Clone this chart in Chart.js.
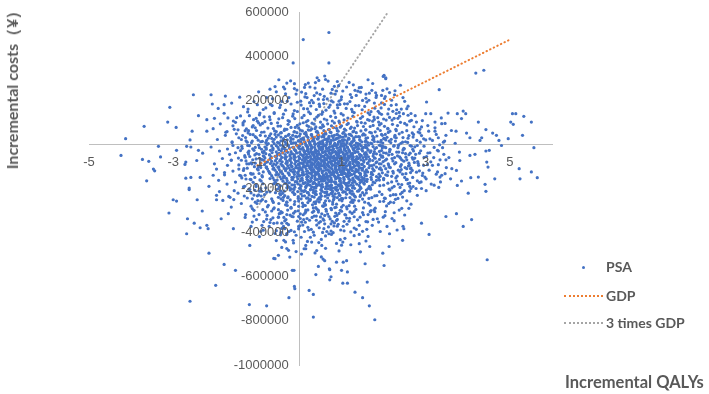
<!DOCTYPE html>
<html>
<head>
<meta charset="utf-8">
<script src="https://cdn.jsdelivr.net/npm/chart.js@4.4.1/dist/chart.umd.min.js"></script>
<style>
  body { margin: 0; background: #fff; }
  #wrap { position: relative; width: 709px; height: 394px; overflow: hidden; }
  #chart { position: absolute; left: 0; top: 0; }
  .lbl { position: absolute; font-family: Lato, 'Open Sans', sans-serif; font-weight: 700; color: #595959; font-size: 14px; white-space: nowrap; line-height: 1; }
  #ytitle { left: 12px; top: 86px; font-size: 16px; transform: translate(-50%, -50%) rotate(-90deg); }
  #xtitle { left: 565px; top: 374px; font-size: 16.5px; }
  .lg-text { left: 606px; }
  .lg-line { position: absolute; left: 564px; width: 39px; height: 0; border-top: 2px dotted; }
  .lg-dot { position: absolute; left: 582px; width: 3px; height: 3px; border-radius: 50%; background: #4472C4; }
</style>
</head>
<body>
<div id="wrap">
  <canvas id="chart" width="709" height="394"></canvas>
  <div class="lbl" id="ytitle">Incremental costs（¥）</div>
  <div class="lbl" id="xtitle">Incremental QALYs</div>
  <div class="lg-dot" style="top:266px"></div>
  <div class="lbl lg-text" style="top:260px">PSA</div>
  <div class="lg-line" style="top:295px; border-color:#ED7D31"></div>
  <div class="lbl lg-text" style="top:289px">GDP</div>
  <div class="lg-line" style="top:322px; border-color:#A5A5A5"></div>
  <div class="lbl lg-text" style="top:316px">3 times GDP</div>
</div>
<script>
// axis ticks
const xTicks = [-5, -3, -1, 1, 3, 5];
const yTicks = [600000, 400000, 200000, 0, -200000, -400000, -600000, -800000, -1000000];

// threshold lines: [QALY, cost]
const gdpLine = [[-1, -95000], [5, 475000]];
const gdp3Line = [[-1, -285000], [2.1, 598500]];

// PSA simulations: [incremental QALYs, incremental cost in thousand ¥]
// dense centre of the cloud
const psaDense = [
  [-0.45,83],[-0.1,77],[0.18,85],[0.39,79],[0.57,82],[0.81,76],[1.0,84],[1.23,78],[1.52,81],[1.75,86],
  [-0.62,72],[-0.3,68],[-0.02,74],[0.21,66],[0.37,71],[0.52,75],[0.71,67],[0.88,73],[1.07,69],[1.31,74],[1.58,66],[1.86,71],
  [-0.55,58],[-0.36,63],[-0.13,56],[0.07,61],[0.26,64],[0.4,57],[0.58,62],[0.73,55],[0.92,60],[1.1,64],[1.27,57],[1.46,61],[1.67,55],[1.92,63],
  [-0.68,48],[-0.45,52],[-0.25,46],[-0.06,53],[0.12,49],[0.29,44],[0.44,51],[0.6,47],[0.75,54],[0.89,45],[1.03,50],[1.18,46],[1.35,53],[1.52,48],[1.71,52],[1.95,45],
  [-0.71,39],[-0.5,43],[-0.33,36],[-0.16,41],[0.0,38],[0.16,44],[0.3,35],[0.43,40],[0.57,43],[0.7,36],[0.83,41],[0.96,37],[1.09,44],[1.24,39],[1.4,35],[1.56,42],[1.74,37],[1.97,41],
  [-0.74,28],[-0.55,33],[-0.38,26],[-0.21,31],[-0.06,34],[0.08,27],[0.2,32],[0.33,25],[0.45,30],[0.58,34],[0.69,26],[0.8,31],[0.92,28],[1.04,33],[1.16,25],[1.29,30],[1.43,34],[1.58,27],[1.77,31],[2.0,26],
  [-0.78,18],[-0.6,23],[-0.44,16],[-0.29,21],[-0.15,24],[-0.02,17],[0.1,22],[0.22,15],[0.33,19],[0.44,24],[0.55,16],[0.65,21],[0.75,18],[0.86,23],[0.96,15],[1.07,20],[1.18,24],[1.3,17],[1.43,22],[1.58,16],[1.74,21],[1.94,18],
  [-0.8,8],[-0.63,13],[-0.48,6],[-0.34,11],[-0.21,14],[-0.09,7],[0.03,12],[0.14,5],[0.25,9],[0.35,14],[0.45,6],[0.55,11],[0.65,8],[0.74,13],[0.84,5],[0.93,10],[1.03,14],[1.13,7],[1.24,12],[1.35,6],[1.48,11],[1.62,8],[1.78,13],[1.98,6],
  [-0.77,-2],[-0.6,3],[-0.45,-4],[-0.32,1],[-0.19,4],[-0.07,-3],[0.05,2],[0.16,-5],[0.26,-1],[0.36,4],[0.46,-4],[0.55,1],[0.64,-2],[0.73,3],[0.82,-5],[0.91,0],[1.0,4],[1.1,-3],[1.2,2],[1.31,-4],[1.43,1],[1.57,-2],[1.72,3],[1.9,-4],
  [-0.82,-12],[-0.66,-7],[-0.51,-14],[-0.38,-9],[-0.26,-6],[-0.14,-13],[-0.03,-8],[0.08,-15],[0.18,-11],[0.27,-6],[0.36,-14],[0.45,-9],[0.53,-12],[0.62,-7],[0.7,-15],[0.79,-10],[0.87,-6],[0.96,-13],[1.05,-8],[1.14,-14],[1.24,-9],[1.35,-12],[1.47,-7],[1.6,-15],[1.75,-10],[1.93,-6],
  [-0.79,-22],[-0.63,-17],[-0.49,-24],[-0.36,-19],[-0.24,-16],[-0.12,-23],[-0.01,-18],[0.1,-25],[0.2,-21],[0.29,-16],[0.38,-24],[0.47,-19],[0.55,-22],[0.64,-17],[0.72,-25],[0.81,-20],[0.89,-16],[0.98,-23],[1.07,-18],[1.17,-24],[1.27,-19],[1.38,-22],[1.5,-17],[1.63,-25],[1.79,-20],[1.97,-16],
  [-0.84,-32],[-0.69,-27],[-0.55,-34],[-0.43,-29],[-0.31,-26],[-0.2,-33],[-0.09,-28],[0.01,-35],[0.11,-31],[0.2,-26],[0.28,-34],[0.37,-29],[0.45,-32],[0.53,-27],[0.61,-35],[0.69,-30],[0.77,-26],[0.85,-33],[0.93,-28],[1.01,-34],[1.1,-29],[1.19,-32],[1.29,-27],[1.39,-35],[1.5,-30],[1.63,-26],[1.78,-33],[1.95,-28],
  [-0.8,-42],[-0.65,-37],[-0.52,-44],[-0.4,-39],[-0.28,-36],[-0.17,-43],[-0.07,-38],[0.03,-45],[0.13,-41],[0.22,-36],[0.3,-44],[0.39,-39],[0.47,-42],[0.55,-37],[0.63,-45],[0.71,-40],[0.79,-36],[0.87,-43],[0.95,-38],[1.04,-44],[1.13,-39],[1.22,-42],[1.32,-37],[1.43,-45],[1.55,-40],[1.68,-36],[1.83,-43],[2.0,-38],
  [-0.86,-52],[-0.71,-47],[-0.58,-54],[-0.46,-49],[-0.34,-46],[-0.23,-53],[-0.12,-48],[-0.02,-55],[0.08,-51],[0.17,-46],[0.26,-54],[0.34,-49],[0.42,-52],[0.5,-47],[0.58,-55],[0.66,-50],[0.74,-46],[0.82,-53],[0.9,-48],[0.98,-54],[1.07,-49],[1.16,-52],[1.26,-47],[1.36,-55],[1.47,-50],[1.6,-46],[1.75,-53],[1.92,-48],
  [-0.82,-62],[-0.67,-57],[-0.54,-64],[-0.42,-59],[-0.31,-56],[-0.2,-63],[-0.1,-58],[0.0,-65],[0.1,-61],[0.19,-56],[0.28,-64],[0.36,-59],[0.44,-62],[0.52,-57],[0.6,-65],[0.68,-60],[0.76,-56],[0.84,-63],[0.92,-58],[1.0,-64],[1.09,-59],[1.18,-62],[1.28,-57],[1.39,-65],[1.51,-60],[1.64,-56],[1.8,-63],[1.98,-58],
  [-0.85,-72],[-0.7,-67],[-0.57,-74],[-0.45,-69],[-0.33,-66],[-0.22,-73],[-0.12,-68],[-0.03,-75],[0.07,-71],[0.16,-66],[0.25,-74],[0.33,-69],[0.41,-72],[0.49,-67],[0.57,-75],[0.65,-70],[0.73,-66],[0.81,-73],[0.89,-68],[0.97,-74],[1.06,-69],[1.15,-72],[1.25,-67],[1.35,-75],[1.46,-70],[1.59,-66],[1.74,-73],[1.9,-68],
  [-0.8,-82],[-0.66,-77],[-0.53,-84],[-0.41,-79],[-0.3,-76],[-0.19,-83],[-0.09,-78],[0.01,-85],[0.11,-81],[0.2,-76],[0.29,-84],[0.37,-79],[0.45,-82],[0.53,-77],[0.61,-85],[0.69,-80],[0.77,-76],[0.85,-83],[0.93,-78],[1.02,-84],[1.11,-79],[1.2,-82],[1.3,-77],[1.41,-85],[1.53,-80],[1.66,-76],[1.82,-83],[1.99,-78],
  [-0.83,-92],[-0.69,-87],[-0.56,-94],[-0.44,-89],[-0.32,-86],[-0.21,-93],[-0.11,-88],[-0.01,-95],[0.09,-91],[0.18,-86],[0.27,-94],[0.35,-89],[0.43,-92],[0.51,-87],[0.59,-95],[0.67,-90],[0.75,-86],[0.83,-93],[0.91,-88],[0.99,-94],[1.08,-89],[1.17,-92],[1.27,-87],[1.37,-95],[1.49,-90],[1.62,-86],[1.77,-93],[1.94,-88],
  [-0.78,-102],[-0.64,-97],[-0.51,-104],[-0.39,-99],[-0.28,-96],[-0.18,-103],[-0.08,-98],[0.02,-105],[0.12,-101],[0.21,-96],[0.3,-104],[0.38,-99],[0.46,-102],[0.54,-97],[0.62,-105],[0.7,-100],[0.78,-96],[0.86,-103],[0.94,-98],[1.03,-104],[1.12,-99],[1.21,-102],[1.31,-97],[1.42,-105],[1.54,-100],[1.67,-96],[1.83,-103],[2.01,-98],
  [-0.76,-112],[-0.61,-107],[-0.48,-114],[-0.36,-109],[-0.25,-106],[-0.14,-113],[-0.04,-108],[0.06,-115],[0.16,-111],[0.25,-106],[0.34,-114],[0.43,-109],[0.51,-112],[0.6,-107],[0.68,-115],[0.77,-110],[0.85,-106],[0.94,-113],[1.03,-108],[1.13,-114],[1.23,-109],[1.34,-112],[1.46,-107],[1.59,-115],[1.74,-110],[1.92,-106],
  [-0.73,-122],[-0.58,-117],[-0.45,-124],[-0.33,-119],[-0.22,-116],[-0.11,-123],[-0.01,-118],[0.09,-125],[0.19,-121],[0.28,-116],[0.37,-124],[0.46,-119],[0.54,-122],[0.63,-117],[0.71,-125],[0.8,-120],[0.88,-116],[0.97,-123],[1.06,-118],[1.16,-124],[1.26,-119],[1.37,-122],[1.49,-117],[1.62,-125],[1.77,-120],[1.95,-116],
  [-0.7,-132],[-0.54,-127],[-0.4,-134],[-0.27,-129],[-0.15,-126],[-0.04,-133],[0.07,-128],[0.17,-135],[0.27,-131],[0.36,-126],[0.45,-134],[0.54,-129],[0.63,-132],[0.72,-127],[0.81,-135],[0.9,-130],[0.99,-126],[1.09,-133],[1.19,-128],[1.3,-134],[1.42,-129],[1.56,-132],[1.71,-127],[1.89,-135],
  [-0.66,-142],[-0.5,-137],[-0.36,-144],[-0.24,-139],[-0.12,-136],[-0.01,-143],[0.1,-138],[0.2,-145],[0.3,-141],[0.39,-136],[0.48,-144],[0.57,-139],[0.66,-142],[0.75,-137],[0.84,-145],[0.93,-140],[1.02,-136],[1.12,-143],[1.22,-138],[1.33,-144],[1.45,-139],[1.59,-142],[1.74,-137],[1.92,-145],
  [-0.63,-152],[-0.46,-147],[-0.31,-154],[-0.18,-149],[-0.06,-146],[0.06,-153],[0.17,-148],[0.27,-155],[0.37,-151],[0.47,-146],[0.56,-154],[0.66,-149],[0.75,-152],[0.85,-147],[0.95,-155],[1.05,-150],[1.16,-146],[1.27,-153],[1.4,-148],[1.54,-154],[1.7,-149],[1.88,-152],
  [-0.6,-162],[-0.43,-157],[-0.29,-164],[-0.16,-159],[-0.04,-156],[0.07,-163],[0.18,-158],[0.28,-165],[0.38,-161],[0.48,-156],[0.57,-164],[0.67,-159],[0.76,-162],[0.86,-157],[0.96,-165],[1.06,-160],[1.17,-156],[1.28,-163],[1.41,-158],[1.55,-164],[1.71,-159],[1.9,-162],
  [-0.57,-172],[-0.39,-167],[-0.24,-174],[-0.1,-169],[0.02,-166],[0.14,-173],[0.25,-168],[0.36,-175],[0.46,-171],[0.56,-166],[0.66,-174],[0.76,-169],[0.86,-172],[0.96,-167],[1.07,-175],[1.18,-170],[1.3,-166],[1.44,-173],[1.6,-168],[1.79,-174],
  [-0.53,-182],[-0.34,-177],[-0.18,-184],[-0.04,-179],[0.09,-176],[0.21,-183],[0.32,-178],[0.43,-185],[0.54,-181],[0.64,-176],[0.75,-184],[0.86,-179],[0.97,-182],[1.09,-177],[1.22,-185],[1.36,-180],[1.53,-176],[1.73,-183],
  [-0.48,-192],[-0.28,-187],[-0.11,-194],[0.04,-189],[0.17,-186],[0.29,-193],[0.41,-188],[0.53,-195],[0.64,-191],[0.76,-186],[0.88,-194],[1.0,-189],[1.13,-192],[1.28,-187],[1.45,-195],[1.66,-190],
  [-0.5,-202],[-0.3,-197],[-0.13,-204],[0.02,-199],[0.15,-196],[0.27,-203],[0.39,-198],[0.51,-205],[0.62,-201],[0.74,-196],[0.86,-204],[0.98,-199],[1.11,-202],[1.26,-197],[1.43,-205],[1.63,-200],
  [-0.44,-212],[-0.22,-207],[-0.04,-214],[0.12,-209],[0.26,-206],[0.39,-213],[0.52,-208],[0.65,-215],[0.78,-211],[0.91,-206],[1.05,-214],[1.2,-209],[1.38,-212],[1.59,-207],
  [-0.4,-222],[-0.16,-217],[0.04,-224],[0.21,-219],[0.36,-216],[0.5,-223],[0.64,-218],[0.78,-225],[0.93,-221],[1.09,-216],[1.28,-224],[1.5,-219],
  [-0.35,-232],[-0.12,-227],[0.07,-234],[0.23,-229],[0.38,-226],[0.52,-233],[0.66,-228],[0.8,-235],[0.95,-231],[1.12,-226],[1.31,-234],[1.54,-229],
  [-0.28,-242],[-0.03,-237],[0.17,-244],[0.35,-239],[0.51,-236],[0.67,-243],[0.83,-238],[1.0,-245],[1.2,-241],[1.44,-236],
  [-0.22,-252],[0.04,-247],[0.25,-254],[0.44,-249],[0.62,-256],[0.81,-251],[1.03,-246],[1.3,-253],
  [-0.3,-262],[-0.02,-257],[0.2,-264],[0.4,-259],[0.59,-266],[0.79,-261],[1.01,-256],[1.27,-263],
  [-0.12,-272],[0.14,-277],[0.38,-269],[0.62,-275],[0.88,-271],[1.18,-278],
  [-0.2,-286],[0.08,-282],[0.33,-288],[0.57,-281],[0.84,-287],[1.12,-283]
];

// extra points filling the centre between the rows above
const psaFill = [
  [0.04,24],[0.19,-9],[0.31,-37],[0.43,-64],[0.58,-93],[0.71,-121],[0.85,-148],[0.99,-177],[1.14,-205],[1.28,16],[1.41,-19],[1.55,-46],[0.12,-78],[0.25,-104],[0.39,-131],[0.52,-158],[0.66,-186],[0.79,-214],[0.93,12],[1.07,-25],[1.21,-53],[1.35,-82],[1.49,-110],[0.07,-139],[0.21,-167],[0.35,-195],[0.48,3],[0.62,-31],[0.76,-58],[0.9,-86],[1.04,-115],[1.18,-143],[1.32,-171],[1.46,-199],[0.16,-57],[0.3,-84],[0.44,-112],[0.57,-140],[0.71,-168],[0.85,-196],[0.99,-4],[1.13,-40],[1.27,-68],[1.41,-96],[1.55,-124],[0.02,-185],[0.14,-211],[0.28,-19],[0.42,-46],[0.55,-15],[0.69,-99],[0.83,-127],[0.97,-155],[1.11,-184],[1.25,-212],[1.39,-7],[1.53,-73],[0.09,-103],[0.23,-130],[0.37,-158],[0.5,-186],[0.64,24],[0.78,-9],[0.92,-37],[1.06,-65],[1.2,-93],[1.34,-121],[1.48,-149],[0.18,-29],[0.33,-218],[0.47,-89],[0.6,-146],[0.74,-204],[0.88,-61],[1.02,-89],[1.16,-176],[1.3,-233],[1.44,-162],[1.58,-14],[0.95,-112]
];

// soft edge round the dense centre
const psaEdge = [
  [-0.88,95],[-0.7,112],[-0.52,98],[-0.4,121],[-0.24,104],[-0.11,117],[0.01,93],[0.11,131],[0.2,108],[0.3,96],[0.41,124],[0.5,101],[0.59,115],[0.67,93],[0.78,106],[0.86,122],[0.95,98],[1.06,111],[1.16,95],[1.27,128],[1.36,104],[1.45,118],[1.56,96],[1.66,109],[1.77,124],[1.88,101],[2.0,115],[-0.6,140],[-0.33,155],[-0.15,138],[0.1,162],[0.22,147],[0.4,158],[0.53,136],[0.7,168],[0.82,151],[0.99,139],[1.11,163],[1.3,144],[1.49,157],[1.67,135],[1.87,150],[-0.45,178],[-0.05,191],[0.27,174],[0.58,185],[0.9,179],[1.2,194],[1.55,172],[1.95,188],[-0.8,165],[0.45,205],[1.0,215],[0.15,230],[1.65,200],[-0.25,212],[0.75,232],[1.35,222],[2.12,160],[-1.0,180],
  [-0.62,-293],[-0.44,-305],[-0.28,-298],[-0.14,-312],[-0.03,-301],[0.09,-319],[0.2,-297],[0.31,-308],[0.42,-294],[0.53,-315],[0.64,-303],[0.76,-296],[0.86,-311],[0.97,-299],[1.08,-318],[1.2,-306],[1.34,-295],[1.5,-309],[1.7,-300],[-0.5,-330],[-0.32,-341],[-0.18,-327],[0.05,-352],[0.18,-336],[0.4,-344],[0.5,-329],[0.73,-338],[0.84,-326],[1.06,-349],[1.19,-335],[1.44,-330],[1.62,-351],[-0.38,-372],[-0.2,-390],[0.08,-366],[0.33,-398],[0.47,-378],[0.75,-393],[1.04,-371],[1.22,-397],[-0.08,-412],[0.26,-421],[0.62,-415],[0.97,-432],[-0.45,-410],[1.42,-408],[0.12,-395],[0.58,-344],[0.92,-362],[-0.02,-327],
  [-1.34,88],[-1.21,62],[-1.05,75],[-0.93,41],[-1.28,31],[-1.14,8],[-0.98,19],[-1.36,-18],[-1.19,-6],[-1.02,-42],[-0.9,-22],[-1.3,-51],[-1.11,-70],[-0.95,-63],[-1.25,-88],[-1.07,-101],[-0.92,-84],[-1.33,-118],[-1.16,-131],[-1.0,-112],[-0.89,-142],[-1.27,-157],[-1.1,-172],[-0.94,-161],[-1.2,-203],[-1.03,-191],[-0.9,-212],[-1.31,-234],[-1.12,-247],[-0.97,-229],[-1.22,-36],[-1.05,-14],[-1.17,45],[-0.97,97],[-1.29,-140],[-0.92,-105],[-1.15,-220],[-0.87,-178],[-0.99,-255],[-1.24,10],[-1.38,-72],[-1.06,-150],[-0.86,-37],[-1.13,-88],[-0.88,14],
  [2.02,82],[2.11,54],[2.21,91],[2.28,15],[2.37,48],[2.46,-25],[2.55,62],[2.63,-5],[2.05,20],[2.14,-33],[2.24,-8],[2.33,-52],[2.43,-70],[2.52,-42],[2.61,-95],[2.69,-22],[2.07,-67],[2.16,-105],[2.26,-88],[2.35,-117],[2.45,-135],[2.54,-160],[2.64,-128],[2.09,-141],[2.19,-170],[2.29,-152],[2.39,-195],[2.49,-210],[2.58,-178],[2.13,-203],[2.23,-228],[2.34,-245],[2.44,-218],[2.04,-245],[2.16,-262],[2.0,-185],[2.1,-125],[2.2,-45],[2.3,30],[2.4,-100],[2.5,-150],[2.6,40],[2.68,-60],[2.05,-15],[2.15,60],[2.25,-190],[2.35,-5],[2.45,10],[2.55,-110],[2.65,-200],[2.72,80],[2.8,-165],[2.85,-40],[2.95,-95],[3.0,20]
];

// middle ring, between the centre and the sparse tails
const psaMid = [
  [-1.18,-205],[-1.05,-262],[-0.96,-318],[-0.83,-228],[-0.74,-276],[-0.68,-341],[-0.57,-219],[-0.49,-268],[-0.41,-309],[-0.35,-382],[-1.12,-352],[-0.92,-395],[-0.8,-258],[-0.66,-302],[-0.53,-356],[-0.44,-247],[-0.37,-331],[-1.0,-233],[-0.87,-296],[-0.72,-372],[-0.6,-288],[-0.47,-223],[-0.33,-274],[-1.08,-325],[-0.95,-212],[-0.78,-339],[-0.64,-256],[-0.55,-391],[-0.42,-357],[-0.3,-318],[-0.85,-350],[-1.15,-280],[-0.7,-215],[-0.5,-330],[-0.38,-240],
  [1.55,-262],[1.63,-318],[1.72,-241],[1.8,-289],[1.88,-352],[1.96,-227],[2.04,-305],[2.12,-268],[2.2,-336],[2.28,-249],[2.37,-298],[2.46,-371],[2.55,-256],[1.6,-385],[1.75,-340],[1.92,-395],[2.08,-372],[2.25,-310],[2.4,-225],[1.68,-276],[1.84,-232],[2.0,-258],[2.16,-232],[2.32,-388],[2.5,-320],[1.58,-350],[1.79,-305],[1.99,-330],[2.14,-405],[2.6,-290],
  [-1.78,-138],[-1.71,-95],[-1.66,-45],[-1.6,12],[-1.55,68],[-1.49,121],[-1.44,-112],[-1.4,-28],[-1.35,40],[-1.31,105],[-1.27,-75],[-1.23,-5],[-1.19,130],[-1.14,-135],[-1.1,85],[-1.06,-48],[-1.02,30],[-0.98,-102],[-0.94,142],[-0.9,-68],[-1.75,55],[-1.62,-72],[-1.52,100],[-1.46,-15],[-1.37,-152],[-1.29,62],[-1.2,-88],[-1.11,-20],[-1.03,118],[-0.96,-132],
  [1.62,112],[1.7,148],[1.78,187],[1.86,121],[1.94,165],[2.02,208],[2.1,138],[2.18,177],[2.26,225],[2.34,118],[2.42,160],[2.5,195],[2.58,132],[1.66,232],[1.82,213],[1.98,245],[2.14,235],[2.3,180],[2.46,212],[1.74,105],[1.9,142],[2.06,110],[2.22,150],[2.38,128],[2.62,105],
  [-0.78,212],[-0.65,176],[-0.55,238],[-0.42,195],[-0.35,252],[-0.2,183],[-0.08,228],[0.03,196],[0.12,258],[0.24,189],[0.35,221],[0.47,182],[0.55,250],[0.66,206],[0.73,178],[0.85,228],[0.94,196],[1.03,242],[1.14,184],[1.24,213],[1.33,176],[1.42,257],[1.5,199],[1.58,228],[-0.7,250],[-0.12,275],[0.38,280],[0.9,285],[1.28,270],[0.6,310],
  [2.62,-175],[2.68,-118],[2.74,-62],[2.8,-5],[2.86,52],[2.92,108],[2.98,-148],[3.04,-92],[3.1,-38],[3.16,18],[3.22,75],[3.28,-125],[3.34,-70],[3.4,-15],[3.46,95],[2.65,140],[2.77,-200],[2.89,-170],[3.01,-210],[3.13,-180],[3.25,45],[3.37,120],[3.49,-105],[2.71,-30],[2.83,-95],[2.95,25],[3.07,60],[3.19,-60],[3.31,-195],[3.43,-45],
  [-0.45,-312],[-0.3,-358],[-0.15,-328],[-0.02,-372],[0.1,-341],[0.22,-388],[0.34,-303],[0.46,-356],[0.58,-382],[0.7,-327],[0.82,-370],[0.94,-313],[1.06,-392],[1.18,-348],[1.3,-305],[1.42,-367],[-0.25,-395],[0.15,-305],[0.4,-325],[0.65,-395],[0.88,-345],[1.1,-320],[1.35,-385],[0.02,-315],[0.75,-360]
];

// wider body of the cloud
const psaCore = [
  [-0.58,262],[-0.21,288],[0.14,271],[0.37,255],[0.62,294],[0.93,266],[1.18,281],[1.47,258],[1.74,276],[2.08,252],
  [-1.42,214],[-0.97,238],[-0.64,207],[-0.33,229],[-0.06,246],[0.18,212],[0.41,233],[0.59,218],[0.78,249],[0.99,203],[1.21,226],[1.39,241],[1.58,209],[1.81,234],[2.04,217],[2.27,243],
  [-1.93,163],[-1.61,187],[-1.33,171],[-1.08,194],[-0.86,158],[-0.69,182],[-0.47,167],[-0.29,196],[-0.12,153],[0.04,178],[0.19,161],[0.33,189],[0.48,172],[0.63,155],[0.76,197],[0.91,166],[1.07,184],[1.24,159],[1.41,176],[1.6,192],[1.79,164],[2.02,181],[2.31,157],[2.58,173],
  [-2.02,118],[-1.79,141],[-1.57,106],[-1.4,129],[-1.23,147],[-1.09,112],[-0.95,134],[-0.82,103],[-0.71,125],[-0.6,144],[-0.49,116],[-0.38,137],[-0.27,108],[-0.16,128],[-0.05,149],[0.06,121],[0.16,102],[0.26,139],[0.36,115],[0.45,131],[0.55,146],[0.65,110],[0.74,127],[0.84,142],[0.94,105],[1.04,133],[1.15,119],[1.26,148],[1.37,101],[1.5,126],[1.63,143],[1.78,113],[1.95,136],[2.14,122],[2.37,145],[2.66,109],
  [-2.05,71],[-1.88,93],[-1.72,58],[-1.58,84],[-1.46,66],[-1.34,97],[-1.22,52],[-1.12,79],[-1.02,63],[-0.93,88],[-0.84,56],[-0.75,74],[-0.67,95],[-0.59,61],[-0.51,83],[-0.43,53],[-0.35,69],[-0.27,91],[-0.2,77],[-0.12,58],[-0.05,86],[0.02,65],[0.09,98],[0.15,54],[0.22,81],[0.29,70],[0.35,92],[0.42,59],[0.49,76],[0.55,89],[0.62,51],[0.69,67],[0.76,84],[0.83,97],[0.9,62],[0.97,78],[1.05,55],[1.13,90],[1.21,72],[1.29,60],[1.38,85],[1.47,99],[1.57,66],[1.68,81],[1.8,57],[1.94,94],[2.1,73],[2.3,62],[2.55,88],[2.86,68],
  [-1.95,22],[-1.76,41],[-1.6,8],[-1.44,30],[-1.27,16],[-1.1,44],
  [-0.92,12],[-0.81,38],[-0.74,4],[-0.66,27],[-0.58,45],[-0.52,9],[-0.44,33],[-0.39,18],[-0.31,2],[-0.27,41],[-0.2,24],[-0.14,7],[-0.09,36],[-0.03,15],[0.02,47],[0.05,3],[0.09,29],[0.13,11],[0.17,38],[0.21,21],[0.24,6],[0.28,44],[0.31,16],[0.35,31],[0.38,2],[0.42,25],[0.46,40],[0.49,12],[0.53,34],[0.56,5],[0.6,22],[0.63,47],[0.67,14],[0.7,30],[0.74,8],[0.77,39],[0.81,19],[0.84,1],[0.88,27],[0.91,43],[0.95,11],[0.98,33],[1.02,20],[1.06,4],[1.1,37],[1.13,16],[1.17,28],[1.21,45],[1.25,9],[1.29,24],[1.34,35],[1.39,3],[1.44,18],[1.5,42],[1.56,13],[1.62,30],[1.69,6],[1.76,23],[1.84,38],[1.93,10],[2.02,27],[2.13,15],[2.26,33],[2.41,5],
  [-1.71,-21],[-1.52,-38],[-1.37,-9],[-1.21,-44],[-1.08,-27],[-0.97,-3],[-0.88,-35],[-0.79,-16],[-0.71,-48],[-0.63,-24],[-0.55,-6],[-0.48,-41],[-0.41,-19],[-0.34,-31],[-0.28,-2],[-0.22,-46],[-0.16,-13],[-0.1,-28],[-0.05,-39],[0.0,-8],[0.04,-22],[0.08,-49],[0.12,-33],[0.16,-4],[0.2,-17],[0.23,-42],[0.27,-26],[0.3,-11],[0.34,-37],[0.37,-1],[0.41,-29],[0.44,-45],[0.48,-14],[0.51,-23],[0.55,-36],[0.58,-6],[0.62,-47],[0.65,-19],[0.69,-31],[0.72,-10],[0.76,-40],[0.79,-25],[0.83,-3],[0.86,-34],[0.9,-16],[0.93,-48],[0.97,-27],[1.0,-8],[1.04,-38],[1.07,-21],[1.11,-44],[1.14,-12],[1.18,-30],[1.22,-2],[1.26,-41],[1.3,-18],[1.34,-33],[1.39,-7],[1.43,-46],[1.48,-24],[1.53,-13],[1.58,-37],[1.64,-4],[1.7,-29],[1.76,-43],[1.83,-15],[1.9,-32],[1.98,-9],[2.06,-40],[2.15,-22],[2.25,-5],[2.36,-35],[2.48,-18],[2.6,-47],[2.74,-11],[2.88,-29],[3.05,-39],[3.2,-14],[-1.9,-30],[-2.1,-12],
  [-1.62,-71],[-1.44,-93],[-1.29,-58],[-1.15,-84],[-1.03,-66],[-0.93,-97],[-0.84,-55],[-0.76,-79],[-0.68,-62],[-0.61,-88],[-0.54,-52],[-0.47,-75],[-0.41,-95],[-0.35,-60],[-0.29,-83],[-0.23,-69],[-0.18,-99],[-0.13,-56],[-0.08,-77],[-0.03,-91],[0.01,-63],[0.05,-85],[0.09,-51],[0.13,-72],[0.17,-96],[0.21,-59],[0.24,-81],[0.28,-67],[0.31,-92],[0.35,-54],[0.38,-76],[0.42,-88],[0.45,-61],[0.49,-98],[0.52,-70],[0.56,-53],[0.59,-83],[0.63,-65],[0.66,-94],[0.7,-57],[0.73,-78],[0.77,-89],[0.8,-62],[0.84,-74],[0.87,-99],[0.91,-52],[0.94,-86],[0.98,-68],[1.01,-80],[1.05,-58],[1.08,-95],[1.12,-71],[1.15,-63],[1.19,-87],[1.23,-54],[1.27,-76],[1.31,-97],[1.35,-66],[1.39,-82],[1.43,-59],[1.48,-91],[1.52,-73],[1.57,-56],[1.62,-85],[1.67,-68],[1.72,-96],[1.78,-61],[1.84,-79],[1.9,-88],[1.97,-53],[2.04,-72],[2.12,-94],[2.2,-64],[2.29,-83],[2.38,-57],[2.48,-76],[2.59,-98],[2.7,-67],[2.82,-86],[2.96,-59],[3.12,-79],[3.3,-92],[3.48,-70],[-1.83,-64],[-2.02,-88],[0.6,-73],[0.95,-61],[1.1,-83],[0.4,-66],[1.3,-72],
  [-1.58,-121],[-1.39,-143],[-1.24,-108],[-1.1,-134],[-0.98,-116],[-0.88,-147],[-0.79,-105],[-0.71,-129],[-0.63,-112],[-0.56,-138],[-0.49,-102],[-0.43,-125],[-0.37,-145],[-0.31,-110],[-0.25,-133],[-0.2,-119],[-0.14,-149],[-0.09,-106],[-0.04,-127],[0.01,-141],[0.05,-113],[0.09,-135],[0.13,-101],[0.17,-122],[0.21,-146],[0.25,-109],[0.28,-131],[0.32,-117],[0.36,-142],[0.39,-104],[0.43,-126],[0.46,-138],[0.5,-111],[0.53,-148],[0.57,-120],[0.6,-103],[0.64,-133],[0.67,-115],[0.71,-144],[0.74,-107],[0.78,-128],[0.81,-139],[0.85,-112],[0.88,-124],[0.92,-149],[0.95,-102],[0.99,-136],[1.02,-118],[1.06,-130],[1.09,-108],[1.13,-145],[1.17,-121],[1.2,-113],[1.24,-137],[1.28,-104],[1.32,-126],[1.36,-147],[1.4,-116],[1.45,-132],[1.5,-109],[1.55,-141],[1.6,-123],[1.65,-106],[1.71,-135],[1.77,-118],[1.83,-146],[1.9,-111],[1.97,-129],[2.05,-138],[2.13,-103],[2.22,-122],[2.32,-144],[2.42,-114],[2.53,-133],[2.65,-107],[2.78,-126],[2.92,-141],[3.08,-117],[3.25,-135],[-1.78,-128],[-1.97,-112],[0.7,-121],[1.0,-126],[0.3,-124],[1.15,-133],
  [-1.52,-171],[-1.33,-193],[-1.17,-158],[-1.03,-184],[-0.91,-166],[-0.8,-197],[-0.7,-155],[-0.61,-179],[-0.53,-162],[-0.45,-188],[-0.38,-152],[-0.31,-175],[-0.24,-195],[-0.18,-160],[-0.12,-183],[-0.06,-169],[0.0,-199],[0.05,-156],[0.1,-177],[0.15,-191],[0.2,-163],[0.25,-185],[0.29,-151],[0.34,-172],[0.38,-196],[0.43,-159],[0.47,-181],[0.52,-167],[0.56,-192],[0.61,-154],[0.65,-176],[0.7,-188],[0.74,-161],[0.79,-198],[0.83,-170],[0.88,-153],[0.92,-183],[0.97,-165],[1.01,-194],[1.06,-157],[1.11,-178],[1.16,-189],[1.21,-162],[1.26,-174],[1.31,-199],[1.36,-152],[1.42,-186],[1.48,-168],[1.54,-180],[1.61,-158],[1.68,-195],[1.75,-171],[1.83,-163],[1.91,-187],[2.0,-154],[2.1,-176],[2.2,-197],[2.31,-166],[2.43,-182],[2.56,-159],[2.7,-191],[2.85,-173],[3.01,-156],[3.2,-185],[-1.72,-180],[-1.92,-163],[-2.15,-190],[0.4,-181],[0.85,-174],[1.3,-166],[0.2,-178],[1.05,-171],[0.6,-164],[0.95,-189],[1.5,-158],
  [-1.46,-221],[-1.24,-243],[-1.06,-208],[-0.91,-234],[-0.78,-216],[-0.66,-247],[-0.55,-205],[-0.45,-229],[-0.36,-212],[-0.27,-238],[-0.19,-202],[-0.11,-225],[-0.03,-245],[0.05,-210],[0.12,-233],[0.19,-219],[0.26,-249],[0.33,-206],[0.4,-227],[0.47,-241],[0.54,-213],[0.61,-235],[0.68,-201],[0.75,-222],[0.82,-246],[0.89,-209],[0.96,-231],[1.03,-217],[1.1,-242],[1.17,-204],[1.25,-226],[1.33,-238],[1.41,-211],[1.5,-248],[1.59,-220],[1.69,-203],[1.79,-233],[1.9,-215],[2.02,-244],[2.15,-207],[2.29,-228],[2.45,-239],[2.62,-212],[2.8,-231],[-1.68,-236],[-1.9,-214],[0.3,-236],[0.7,-229],[0.9,-241],[1.2,-219],[0.1,-214],[0.5,-249],[1.0,-204],[1.45,-230],[0.6,-218],[0.2,-242],[-0.5,-240],[-0.15,-216],[0.85,-224],[1.65,-245],
  [-1.38,-268],[-1.12,-291],[-0.92,-257],[-0.76,-283],[-0.62,-263],[-0.5,-296],[-0.39,-254],[-0.29,-277],[-0.2,-289],[-0.11,-259],[-0.02,-281],[0.07,-266],[0.15,-298],[0.23,-253],[0.31,-274],[0.39,-287],[0.47,-261],[0.55,-279],[0.63,-294],[0.71,-256],[0.79,-271],[0.87,-285],[0.95,-252],[1.04,-276],[1.13,-292],[1.22,-262],[1.31,-280],[1.41,-256],[1.52,-288],[1.64,-267],[1.77,-297],[1.91,-259],[2.07,-279],[2.24,-264],[2.43,-290],[2.65,-271],[-1.62,-284],[0.35,-262],[0.75,-290],[0.6,-268],[1.0,-284],[0.1,-275],[0.45,-299],[1.25,-251],[-0.3,-262],
  [-1.28,-318],[-1.02,-341],[-0.81,-306],[-0.63,-333],[-0.48,-314],[-0.35,-347],[-0.22,-321],[-0.1,-304],[0.02,-336],[0.13,-312],[0.24,-344],[0.35,-325],[0.45,-307],[0.56,-338],[0.67,-316],[0.78,-349],[0.89,-322],[1.0,-303],[1.12,-334],[1.25,-313],[1.38,-342],[1.52,-319],[1.68,-305],[1.85,-337],[2.03,-323],[2.25,-346],[0.3,-331],[0.6,-322],[0.9,-340],[-0.05,-348],[1.3,-328],[0.5,-350],
  [-1.15,-372],[-0.86,-389],[-0.61,-358],[-0.42,-381],[-0.26,-364],[-0.12,-396],[0.01,-369],[0.14,-353],[0.28,-385],[0.41,-366],[0.55,-399],[0.69,-374],[0.83,-356],[0.98,-388],[1.13,-362],[1.3,-379],[1.5,-394],[1.73,-367],[0.2,-376],[0.6,-360],[-0.02,-383],[0.9,-371],
  [-0.95,-418],[-0.55,-436],[-0.3,-409],[-0.14,-447],[0.04,-421],[0.19,-440],[0.35,-412],[0.52,-431],[0.7,-405],[0.88,-449],[1.08,-426],[1.3,-414],[1.58,-438],[0.46,-445],
  [-0.42,-467],[-0.08,-486],[0.15,-458],[0.37,-492],[0.62,-471],[0.94,-483],[1.22,-455],[0.05,-497]
];

// rings either side of the centre
const psaRing = [
  [2.03,-12],[2.08,32],[2.12,-48],[2.17,8],[2.22,-75],[2.27,41],[2.31,-35],[2.36,-2],[2.42,-92],[2.44,55],[2.49,-20],[2.53,-58],[2.58,28],[2.64,-110],[2.66,-8],[2.71,45],[2.76,-45],[2.81,-78],[2.87,10],[2.93,-130],[2.05,-110],[2.1,70],[2.19,-145],[2.26,-60],[2.33,85],[2.39,-125],[2.45,-38],[2.52,12],[2.6,-85],[2.69,-150],
  [-1.58,-5],[-1.5,48],[-1.45,-62],[-1.38,22],[-1.32,-110],[-1.26,70],[-1.2,-30],[-1.15,-160],[-1.12,15],[-1.05,-85],[-1.0,105],[-0.96,-45],[-0.92,-200],[-0.9,55],[-0.86,-125],[-0.84,125],[-0.95,-15],[-1.05,35],[-1.18,-55],[-1.3,-190],[-1.42,-140],[-1.22,160],[-0.88,-250],[-1.08,-230]
];

const psaRight = [
  [1.86,12],[1.95,-57],[2.04,45],[2.11,-88],[2.18,23],[2.23,-130],[2.29,68],[2.34,-15],[2.4,-62],[2.46,31],[2.51,-105],[2.57,9],[2.63,-40],[2.68,52],[2.73,-82],[2.79,18],[2.85,-120],[2.9,40],[2.96,-8],[3.02,-55],[3.1,25],[3.16,-95],[3.22,60],[3.3,-30],[3.38,-140],[3.45,15],[3.55,-60],[3.62,-110],[3.7,5],[3.8,-35],[1.9,88],[2.0,-160],[2.2,110],[2.35,-180],[2.5,95],[2.62,-190],[2.75,130],[2.9,-200],[3.05,85],[3.35,-170],[2.15,-25],[2.55,-70],
  [4.19,323],[4.38,336],[3.32,248],[2.01,313],[2.05,302],[2.40,268],[3.02,192],[5.06,139],[5.14,139],[5.33,127],[5.51,101],[5.02,101],[5.08,91],[5.30,41],[5.57,-15],[5.22,-110],[5.51,-125],[5.65,-151],[5.24,-156],[4.96,26],[4.74,18],[4.80,-5],[4.43,67],[4.59,51],[4.68,41],[4.25,101],[3.89,151],[3.95,139],[3.75,139],[3.85,117],[3.53,142],[3.38,94],[3.22,101],[3.12,139],[3.0,139],[4.29,18],[4.33,30],[4.43,-30],[4.51,-27],[4.05,-50],[4.17,-45],[4.45,-80],[4.48,-103],[4.25,-148],[4.07,-151],[4.41,-181],[4.64,-156],[3.81,-73],[3.73,-118],[3.59,-156],[3.85,-166],[3.75,-186],[3.34,-148],[3.46,-133],[3.97,51],[4.05,30],[3.61,63],[3.72,60],[3.48,41],[3.42,10],[3.3,30],[3.33,-2],[3.28,-27],[2.78,101],[2.90,79],[2.82,56],[2.70,33],[2.55,162],[2.47,139],[2.3,140],[2.25,118],[2.4,100]
];

const psaTop = [
  [0.09,475],[0.70,507],[0.70,369],[-0.15,369],[-0.49,293],[-0.30,278],[-0.38,260],[-0.12,253],[0.21,278],[0.25,260],[0.42,302],[0.46,290],[0.68,287],[0.49,227],[0.57,203],[0.83,263],[0.88,242],[1.12,260],[1.32,245],[1.45,237],[1.63,293],[1.99,308],[2.05,298],[1.72,245],[1.83,222],[0.05,237],[0.13,215],[0.29,200],[0.80,192],[0.96,181],[1.95,222],[2.19,200]
];

const psaLeft = [
  [-2.52,225],[-2.10,225],[-1.76,219],[-3.08,168],[-2.07,183],[-1.79,180],[-3.13,101],[-3.69,82],[-2.93,77],[-2.55,60],[-2.20,112],[-4.13,26],[-3.35,-9],[-4.24,-50],[-3.73,-68],[-3.58,-77],[-3.47,-112],[-3.44,-120],[-3.30,-57],[-3.63,-165],[-2.92,-27],[-2.68,-9],[-2.58,-12],[-2.40,-27],[-2.44,-73],[-2.72,-91],[-2.70,-153],[-2.58,-150],[-2.36,-150],[-2.62,-198],
  [-3.0,-251],[-2.92,-257],[-3.10,-311],[-2.62,-205],[-2.43,-251],[-2.31,-302],[-2.66,-337],[-2.50,-357],[-2.36,-378],[-2.20,-367],[-2.17,-382],[-2.68,-405],[-1.97,-231],[-1.97,-251],[-1.86,-337],[-2.15,-493],[-1.79,-544],[-1.52,-571],[-1.99,-639],[-2.60,-711],[-1.18,-458],[-1.19,-726],[-0.78,-732],[-1.57,-382],[-1.69,-314],[-1.82,-254],
  [-1.29,-331],[-1.01,-268],[-0.89,-367],[-0.70,-354],[-0.58,-404],[-0.44,-399],[-1.08,-299],[-0.77,-322],[-0.61,-517],[-1.65,-240],[-1.56,-250],[-2.3,-40],[-2.2,60],[-2.4,130],[-2.05,-140],[-2.6,20],[-1.7,120],[-1.55,-210],[-2.7,-80]
];

const psaBottom = [
  [-0.58,-518],[-0.50,-503],[-0.30,-472],[-0.26,-480],[-0.23,-511],[-0.17,-571],[-0.12,-644],[-0.25,-695],[-0.37,-435],[-0.33,-442],[-0.30,-404],[-0.15,-435],
  [0.33,-783],[1.79,-795],[1.66,-732],[1.50,-695],[1.32,-670],[1.61,-624],[1.03,-629],[1.14,-629],[0.72,-614],[0.75,-600],[0.23,-662],[0.33,-680],[0.39,-590],[0.71,-564],[1.0,-571],[1.14,-578],[1.56,-541],[2.01,-549],[1.98,-493],[1.45,-487],[1.67,-463],[2.13,-463],[2.45,-435],[2.48,-382],[3.08,-408],[4.46,-523],[3.89,-372],[2.90,-357],[3.48,-327],[3.73,-314],[4.09,-341],[4.01,-221],[4.43,-213],
  [0.56,-520],[0.52,-510],[0.6,-527],[0.45,-553],[0.88,-534],[0.72,-568],[-0.11,-654],[-0.13,-571],[0.11,-473],[0.15,-473],[0.41,-481],[1.04,-534],[1.12,-527],[1.42,-450],[1.63,-417],[1.03,-443],[1.0,-457],[0.76,-408],[0.8,-400],[0.53,-458],[0.29,-443]
];

const psaAll = [...psaDense, ...psaFill, ...psaEdge, ...psaMid, ...psaCore, ...psaRing, ...psaRight, ...psaTop, ...psaLeft, ...psaBottom];
const toXY = pts => pts.map(p => ({ x: p[0], y: p[1] }));

Chart.defaults.font.family = "'Liberation Sans', Arial, sans-serif";
Chart.defaults.color = '#595959';

const ctx = document.getElementById('chart');
new Chart(ctx.getContext('2d'), {
  type: 'scatter',
  data: {
    datasets: [
      {
        label: 'GDP',
        data: toXY(gdpLine),
        showLine: true,
        borderColor: '#ED7D31',
        borderWidth: 2,
        borderDash: [0.5, 3.5],
        borderCapStyle: 'round',
        pointRadius: 0,
        order: 1
      },
      {
        label: 'PSA',
        data: psaAll.map(p => ({ x: p[0], y: p[1] * 1000 })),
        backgroundColor: '#4472C4',
        borderWidth: 0,
        pointRadius: 1.6,
        order: 3
      },
      {
        label: '3 times GDP',
        data: toXY(gdp3Line),
        showLine: true,
        borderColor: '#A5A5A5',
        borderWidth: 2,
        borderDash: [0.5, 3.5],
        borderCapStyle: 'round',
        pointRadius: 0,
        order: 4
      }
    ]
  },
  options: {
    responsive: false,
    animation: false,
    layout: { padding: { left: 89, right: 157, top: 12, bottom: 29 } },
    plugins: { legend: { display: false }, tooltip: { enabled: false } },
    scales: {
      x: {
        type: 'linear',
        position: { y: 0 },
        min: -5,
        max: 6,
        afterBuildTicks: s => { s.ticks = xTicks.map(v => ({ value: v })); },
        grid: { display: false, drawTicks: false },
        border: { display: true, color: '#BFBFBF', width: 1 },
        ticks: { padding: 10, z: 1, font: { size: 13 }, color: '#595959', callback: v => String(v) }
      },
      y: {
        type: 'linear',
        position: { x: 0 },
        min: -1000000,
        max: 600000,
        afterBuildTicks: s => { s.ticks = yTicks.map(v => ({ value: v })); },
        grid: { display: false, drawTicks: false },
        border: { display: true, color: '#BFBFBF', width: 1 },
        // labels sit right-aligned on the axis, so pad them with spaces
        ticks: { padding: 0, z: 1, font: { size: 13 }, color: '#595959', callback: v => String(v) + '   ' }
      }
    }
  }
});
</script>
</body>
</html>
